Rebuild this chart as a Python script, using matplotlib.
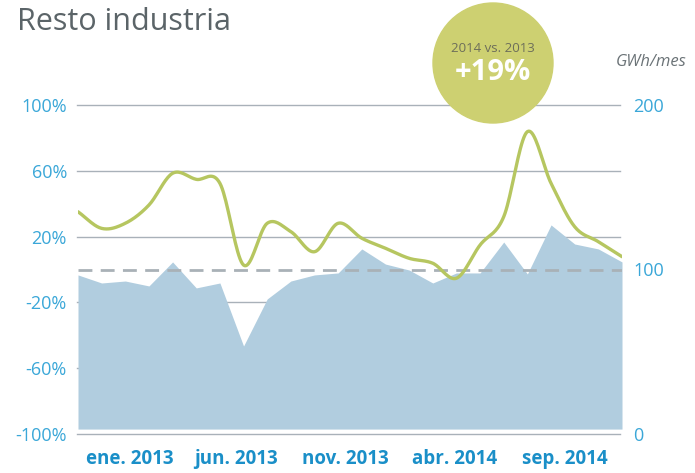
import numpy as np
import matplotlib
matplotlib.use("Agg")
import matplotlib.pyplot as plt
from matplotlib.patches import Ellipse

# ---------------------------------------------------------------------------
# data (ene. 2013 .. dic. 2014)
# ---------------------------------------------------------------------------
months = np.arange(24)
gwh = [96.7, 91.8, 93.0, 90.0, 104.6, 88.8, 91.8, 53.5, 82.1, 93.0, 96.7, 97.9,
       112.5, 103.3, 99.7, 91.8, 97.9, 97.9, 116.7, 97.3, 127.1, 115.5, 112.5, 104.6]
pct = [35.1, 25.0, 28.1, 39.2, 58.5, 54.8, 52.4, 2.7, 28.1, 23.0, 10.8, 28.1,
       19.0, 12.9, 6.8, 3.8, -5.3, 14.9, 32.1, 83.8, 52.4, 26.0, 16.9, 7.8]
xlabels = ["ene. 2013", "jun. 2013", "nov. 2013", "abr. 2014", "sep. 2014"]
xlabel_pos = [2.2, 6.7, 11.3, 15.9, 20.6]
pct_ticks = [100, 60, 20, -20, -60, -100]
gwh_ticks = [0, 100, 200]

BLUE = "#3aa7d8"
XBLUE = "#1a8fc8"
AREA = "#b1cddf"
GREEN = "#b6c660"
GRID = "#a9b1b9"


def catmull_rom(x, y, n=20):
    # smooth curve through the points for drawing only
    x = np.asarray(x, float)
    y = np.asarray(y, float)
    px = np.r_[2 * x[0] - x[1], x, 2 * x[-1] - x[-2]]
    py = np.r_[2 * y[0] - y[1], y, 2 * y[-1] - y[-2]]
    xs, ys = [], []
    t = np.linspace(0, 1, n, endpoint=False)
    for i in range(1, len(px) - 2):
        for p, out in ((px, xs), (py, ys)):
            p0, p1, p2, p3 = p[i - 1], p[i], p[i + 1], p[i + 2]
            out.append(0.5 * ((2 * p1) + (-p0 + p2) * t
                              + (2 * p0 - 5 * p1 + 4 * p2 - p3) * t ** 2
                              + (-p0 + 3 * p1 - 3 * p2 + p3) * t ** 3))
    xs.append([x[-1]])
    ys.append([y[-1]])
    return np.concatenate(xs), np.concatenate(ys)


plt.rcParams["font.family"] = ["Open Sans", "DejaVu Sans"]

fig = plt.figure(figsize=(6.95, 4.73), dpi=100)
W, H = 695, 473
left, right, top, bottom = 78, 622, 105, 434
ax2 = fig.add_axes([left / W, 1 - bottom / H, (right - left) / W, (bottom - top) / H])
ax = ax2.twinx()
ax.set_zorder(ax2.get_zorder() + 1)
ax.patch.set_visible(False)

# area (GWh, right axis)
ax2.set_ylim(0, 200)
ax2.set_xlim(0, 23)
for v in [0, 40, 80, 120, 160, 200]:
    ax2.axhline(v, color=GRID, lw=1.0, zorder=0, xmin=-0.002, xmax=0.997, clip_on=False)
ax2.fill_between(months, gwh, 3, color=AREA, lw=0, zorder=1)

# line (%, left axis)
ax.set_ylim(-100, 100)
ax.axhline(0, color="#a9b1b7", lw=2.0, ls=(0, (5, 3)), zorder=2)
sx, sy = catmull_rom(months, pct)
ax.plot(sx, sy, color=GREEN, lw=2.4, solid_capstyle="round", zorder=3)

# ticks
ax.yaxis.tick_left()
ax2.yaxis.tick_right()
ax.set_yticks(pct_ticks)
ax.set_yticklabels([f"{t}%" for t in pct_ticks])
ax2.set_yticks(gwh_ticks)
ax2.set_yticklabels([str(t) for t in gwh_ticks])
ax.tick_params(axis="y", length=0, pad=8, labelsize=13, labelcolor=BLUE)
ax2.tick_params(axis="y", length=0, pad=8, labelsize=13, labelcolor=BLUE)
ax2.set_xticks(xlabel_pos)
ax2.set_xticklabels(xlabels, fontweight="bold")
ax2.tick_params(axis="x", length=0, pad=11, labelsize=13.5, labelcolor=XBLUE)
for a in (ax, ax2):
    for s in a.spines.values():
        s.set_visible(False)

# title, unit and badge
fig.text(17 / W, 1 - 22 / H, "Resto industria", fontsize=22, color="#5b6468",
         ha="left", va="center")
fig.text(687 / W, 1 - 62 / H, "GWh/mes", fontsize=12, color="#6b7377",
         style="italic", ha="right", va="center")
cx, cy, r = 493, 63, 60
fig.patches.append(Ellipse((cx / W, 1 - cy / H), 2 * r / W, 2 * r / H,
                           transform=fig.transFigure, color="#cdd071", zorder=5))
fig.text(cx / W, 1 - 48 / H, "2014 vs. 2013", fontsize=9.5, color="#6d6e5a",
         ha="center", va="center", zorder=6)
fig.text(cx / W, 1 - 72 / H, "+19%", fontsize=21, color="white", fontweight="bold",
         ha="center", va="center", zorder=6)

fig.savefig("out.png", dpi=100)
